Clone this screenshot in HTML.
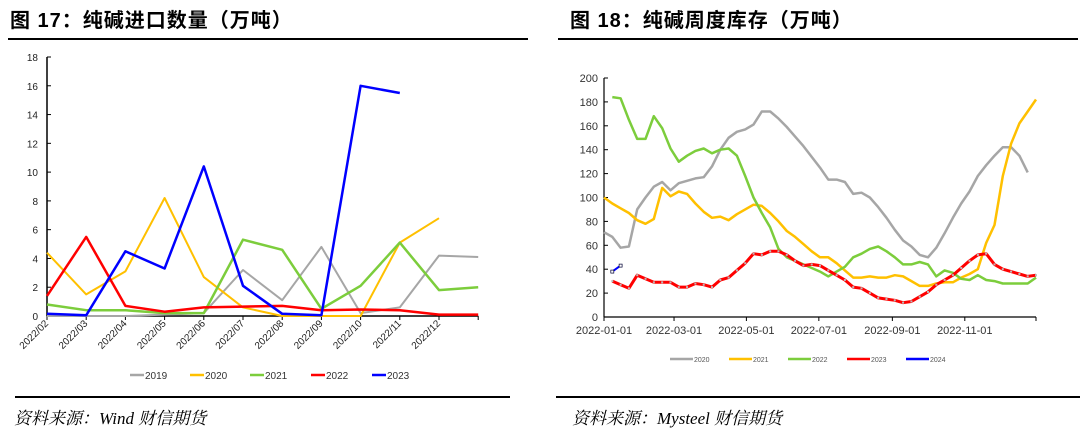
<!DOCTYPE html>
<html><head><meta charset="utf-8"><style>
body{margin:0;width:1080px;height:431px;background:#fff;overflow:hidden;font-family:"Liberation Sans","Noto Sans CJK SC",sans-serif}
.t{position:absolute;font-size:20px;font-weight:bold;top:4px;font-family:"Liberation Sans","Noto Sans CJK SC",sans-serif;letter-spacing:1px}
.s{position:absolute;top:404px;font-size:17px;font-style:italic;font-family:"Liberation Serif","Noto Serif CJK SC",serif}
.hl{position:absolute;height:2px;background:#000}
</style></head><body>
<div class="t" style="left:10px">图 17：纯碱进口数量（万吨）</div>
<div class="t" style="left:570px">图 18：纯碱周度库存（万吨）</div>
<div class="hl" style="left:8px;top:38px;width:520px"></div>
<div class="hl" style="left:558px;top:38px;width:520px"></div>
<div class="hl" style="left:15px;top:396px;width:495px"></div>
<div class="hl" style="left:556px;top:396px;width:524px"></div>
<div class="s" style="left:14px">资料来源：Wind 财信期货</div>
<div class="s" style="left:572px">资料来源：Mysteel 财信期货</div>
<svg id="svg" width="1080" height="431" style="position:absolute;left:0;top:0"></svg>
<script>
const cats=["2022/02","2022/03","2022/04","2022/05","2022/06","2022/07","2022/08","2022/09","2022/10","2022/11","2022/12",""];
const s2019=[0,0,0,0.1,0.2,3.2,1.1,4.8,0.2,0.6,4.2,4.1];
const s2020=[4.4,1.5,3.1,8.2,2.7,0.6,0,0,0,5.1,6.8,null];
const s2021=[0.8,0.4,0.4,0.2,0.2,5.3,4.6,0.5,2.1,5.1,1.8,2.0];
const s2022=[1.4,5.5,0.7,0.3,0.6,0.65,0.7,0.4,0.45,0.4,0.1,0.1];
const s2023=[0.15,0.05,4.5,3.3,10.4,2.1,0.15,0.05,16,15.5,null,null];
const lTicks=[0,2,4,6,8,10,12,14,16,18];

const dateTicks=["2022-01-01","2022-03-01","2022-05-01","2022-07-01","2022-09-01","2022-11-01"];
const dateTickWeeks=[0,8.43,17.14,25.86,34.71,43.43];
const r2020=[71,67,58,59,90,100,109,113,106,112,114,116,117,126,140,150,155,157,161,172,172,166,159,151,143,134,125,115,115,113,103,104,100,92,83,73,64,59,52,50,58,70,83,95,105,118,127,135,142,142,135,121,null];
const r2021=[100,95,91,87,81,78,82,108,101,105,103,95,88,83,84,81,86,90,94,93,87,80,72,67,61,55,50,50,45,39,33,33,34,33,33,35,34,30,26,26,28,29,29,33,36,40,62,77,118,145,162,172,182];
const r2022=[null,184,183,165,149,149,168,158,141,130,135,139,141,137,140,141,135,118,100,87,75,57,50,47,44,41,38,34,38,42,50,53,57,59,55,50,44,44,46,44,34,39,37,32,31,35,31,30,28,28,28,28,33];
const r2023=[null,30,27,24,35,32,29,29,29,25,25,28,27,25,31,33,39,45,53,52,55,55,52,47,43,44,43,39,35,31,25,24,20,16,15,14,12,13,17,21,27,31,35,41,47,52,53,44,40,38,36,34,35];
const r2024=[null,38,43];
const rTicks=[0,20,40,60,80,100,120,140,160,180,200];

const svg=document.getElementById('svg');const NS='http://www.w3.org/2000/svg';
function mk(t,a,txt){const e=document.createElementNS(NS,t);for(const k in a)e.setAttribute(k,a[k]);if(txt!=null)e.textContent=txt;svg.appendChild(e);return e;}
// left chart
const LX=i=>47+i*39.2, LY=v=>316-v*(259/18);
let e=mk('line',{x1:47,y1:LY(18),x2:47,y2:316,stroke:'#000','stroke-width':1.5});

e=mk('line',{x1:47,y1:316,x2:LX(11),y2:316,stroke:'#000','stroke-width':1.5});

lTicks.forEach(v=>{mk('line',{x1:47,y1:LY(v),x2:51,y2:LY(v),stroke:'#000'});
e=mk('text',{x:38,y:LY(v)+4,'font-size':10,'text-anchor':'end',fill:'#222'},v);
});
cats.forEach((c,i)=>{mk('line',{x1:LX(i),y1:316,x2:LX(i),y2:320,stroke:'#000'});
if(c){e=mk('text',{x:LX(i)+2,y:324,'font-size':10,'text-anchor':'end',fill:'#222',transform:`rotate(-45 ${LX(i)+2} 324)`},c);
}});
function line(arr,X,Y,col,w,name){let d='';let pen=false;arr.forEach((v,i)=>{if(v==null){pen=false;return;}d+=(pen?'L':'M')+X(i).toFixed(1)+' '+Y(v).toFixed(1);pen=true;});
const p=mk('path',{d:d,fill:'none',stroke:col,'stroke-width':w,'stroke-linejoin':'round'});return p;}
line(s2019,LX,LY,'#a6a6a6',2,'series-2019');
line(s2020,LX,LY,'#ffc000',2,'series-2020');
line(s2021,LX,LY,'#7ccd3c',2.5,'series-2021');
line(s2022,LX,LY,'#ff0000',2.5,'series-2022');
line(s2023,LX,LY,'#0000ff',2.5,'series-2023');
[['2019','#a6a6a6',130],['2020','#ffc000',190],['2021','#7ccd3c',250],['2022','#ff0000',311],['2023','#0000ff',372]].forEach(a=>{
e=mk('line',{x1:a[2],y1:375,x2:a[2]+14,y2:375,stroke:a[1],'stroke-width':2.5});
e=mk('text',{x:a[2]+15,y:379,'font-size':10,fill:'#333'},a[0]);});
// right chart
const RX=w=>604+w*(432/52), RY=v=>317-v*(239/200);
e=mk('line',{x1:604,y1:RY(200),x2:604,y2:317,stroke:'#000','stroke-width':1.2});
e=mk('line',{x1:604,y1:317,x2:RX(52),y2:317,stroke:'#000','stroke-width':1.2});
rTicks.forEach(v=>{mk('line',{x1:604,y1:RY(v),x2:608,y2:RY(v),stroke:'#000'});
e=mk('text',{x:598,y:RY(v)+4,'font-size':11,'text-anchor':'end',fill:'#333'},v);});
dateTicks.forEach((c,i)=>{const x=RX(dateTickWeeks[i]);mk('line',{x1:x,y1:317,x2:x,y2:321,stroke:'#000'});
e=mk('text',{x:x,y:334,'font-size':11,'text-anchor':'middle',fill:'#333'},c);});
mk('line',{x1:RX(52),y1:317,x2:RX(52),y2:321,stroke:'#000'});
line(r2020,RX,RY,'#a6a6a6',2.5,'inventory-2020');
line(r2021,RX,RY,'#ffc000',2.5,'inventory-2021');
line(r2022,RX,RY,'#7ccd3c',2.5,'inventory-2022');
line(r2023,RX,RY,'#ff0000',3,'inventory-2023');
r2023.forEach((v,i)=>{if(v==null)return;e=mk('rect',{x:RX(i)-1,y:RY(v)-1,width:2,height:2,fill:'#bbb'});});
line(r2024,RX,RY,'#0000ff',2,'inventory-2024');
r2024.forEach((v,i)=>{if(v==null)return;e=mk('rect',{x:RX(i)-1.5,y:RY(v)-1.5,width:3,height:3,fill:'#fff',stroke:'#003','stroke-width':0.7});});
[['2020','#a6a6a6',670],['2021','#ffc000',729],['2022','#7ccd3c',788],['2023','#ff0000',847],['2024','#0000ff',906]].forEach(a=>{
e=mk('line',{x1:a[2],y1:359,x2:a[2]+23,y2:359,stroke:a[1],'stroke-width':2.5});
e=mk('text',{x:a[2]+24,y:362,'font-size':7,fill:'#555'},a[0]);});
</script>
</body></html>
